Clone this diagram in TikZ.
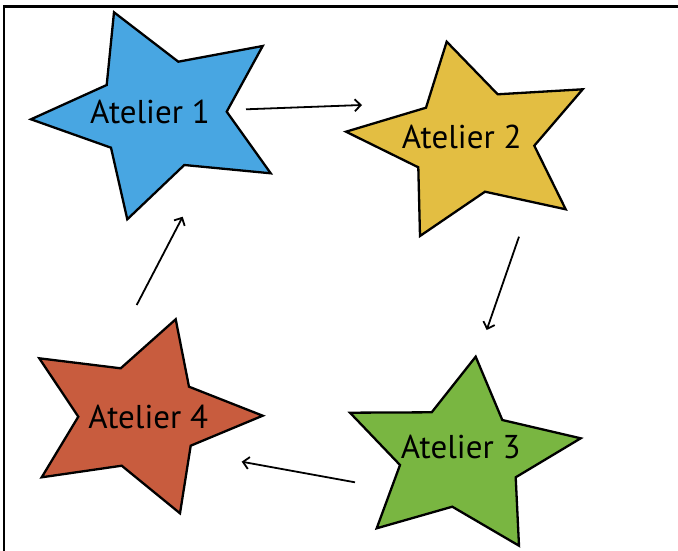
\documentclass[tikz,border=0pt]{standalone}
\usepackage{fontspec}
\setmainfont{PT Sans}
\usetikzlibrary{arrows.meta}
\definecolor{bleu}{RGB}{72,166,226}
\definecolor{jaune}{RGB}{227,190,66}
\definecolor{vert}{RGB}{121,182,65}
\definecolor{rouge}{RGB}{200,92,62}

\begin{document}
\begin{tikzpicture}[x=1pt,y=-1pt]
    \useasboundingbox (0,0) rectangle (678,551);
    \draw[line width=2.4pt] (4,551)--(4,6.5)--(678,6.5); %cadre
    % etoiles
    \draw[line width=2.3pt,line join=miter,fill=bleu] (114,12.3)--(178.3,61.7)--(262.7,46)--(226.7,111.7)--(270.7,173.3)--(184.3,165)--(127.3,219.3)--(111,147.7)--(31,119.3)--(106.7,85)--cycle;
    \draw[line width=2.3pt,line join=miter,fill=jaune] (446.7,41.7)--(497.7,94.3)--(582.7,89.3)--(534.3,145.7)--(565.7,209.3)--(485,191.7)--(420,236)--(418.3,167.3)--(346,131.7)--(426,107.7)--cycle;
    \draw[line width=2.3pt,line join=miter,fill=vert] (475.7,356.7)--(502.3,420)--(580.7,438.3)--(515.7,477.3)--(519,545.7)--(452.3,506.7)--(376.7,528.3)--(400,465)--(350,412.7)--(431.7,412.3)--cycle;
    \draw[line width=2.3pt,line join=miter,fill=rouge] (175.7,319.3)--(189,386.7)--(262.7,415.7)--(190.7,445.7)--(180,513.3)--(121.7,465.7)--(41.7,477.3)--(78.3,416.7)--(39.3,358.3)--(120.7,368.3)--cycle;
    \node (at1) at (150,111.7) {\fontsize{33}{38}\selectfont Atelier 1};
    \node (at2) at (461.7,136.7) {\fontsize{33}{38}\selectfont Atelier 2};
    \node (at3) at (460.7,446.7) {\fontsize{33}{38}\selectfont Atelier 3};
    \node (at4) at (148.3,416.7) {\fontsize{33}{38}\selectfont Atelier 4};
    % fleches
    \coordinate (d1) at (246,109.3); \coordinate (f1) at (362,105);
    \coordinate (d2) at (519,236.7); \coordinate (f2) at (486.7,330);
    \coordinate (d3) at (355,482.3); \coordinate (f3) at (241.7,461.7);
    \coordinate (d4) at (136.7,305); \coordinate (f4) at (182.7,216.7);
    \draw[-{Straight Barb[length=6pt,width=12pt]},line width=1.8pt] (d1)--(f1);
    \draw[-{Straight Barb[length=6pt,width=12pt]},line width=1.8pt] (d2)--(f2);
    \draw[-{Straight Barb[length=6pt,width=12pt]},line width=1.8pt] (d3)--(f3);
    \draw[-{Straight Barb[length=6pt,width=12pt]},line width=1.8pt] (d4)--(f4);
\end{tikzpicture}
\end{document}
